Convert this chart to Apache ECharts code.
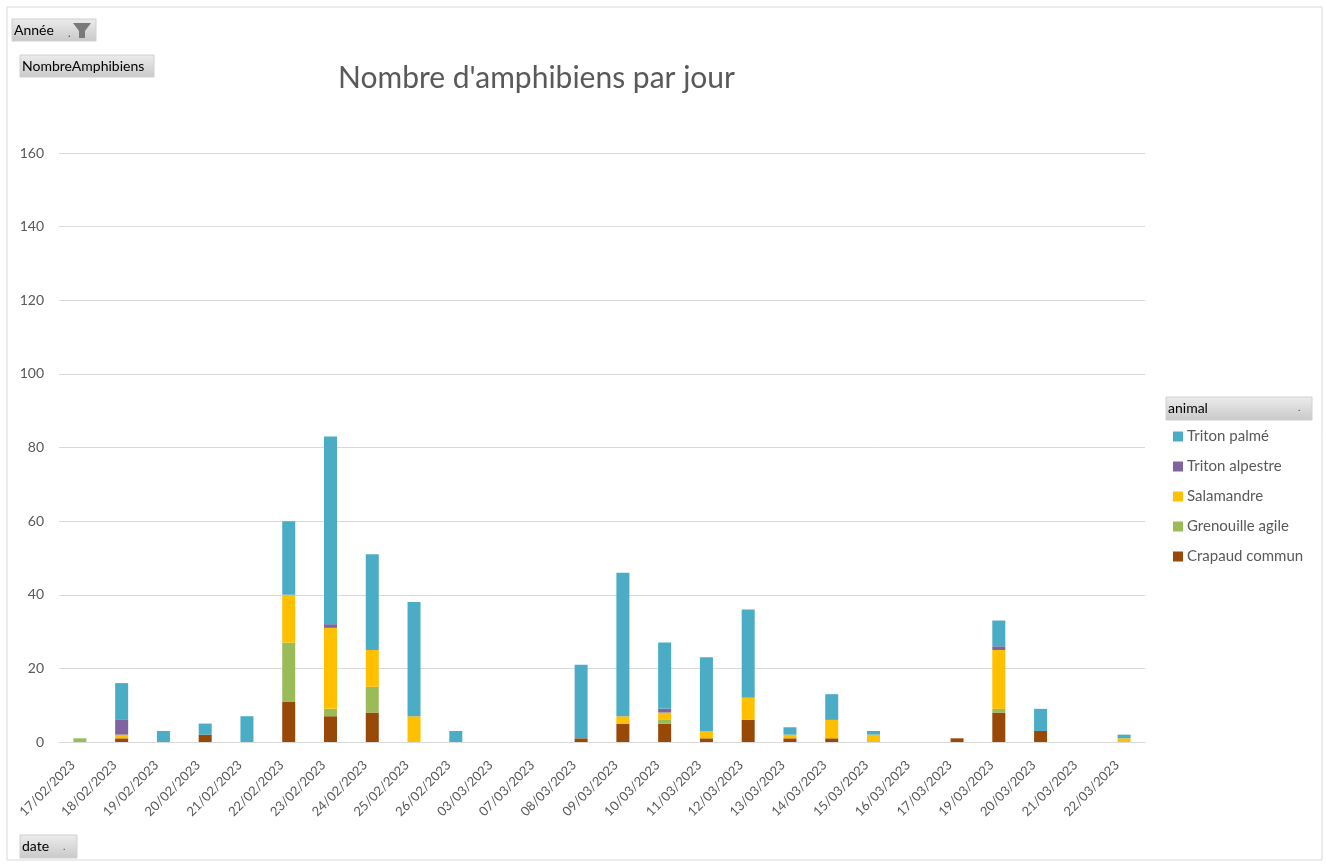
<!DOCTYPE html>
<html>
<head>
<meta charset="utf-8">
<script src="https://cdn.jsdelivr.net/npm/echarts@6/dist/echarts.min.js"></script>
<style>
  html, body { margin: 0; padding: 0; background: #fff; }
  #chart { width: 1326px; height: 868px; }
</style>
</head>
<body>
<div id="chart"></div>
<script>
var dates = ['17/02/2023', '18/02/2023', '19/02/2023', '20/02/2023', '21/02/2023', '22/02/2023',
    '23/02/2023', '24/02/2023', '25/02/2023', '26/02/2023', '03/03/2023', '07/03/2023',
    '08/03/2023', '09/03/2023', '10/03/2023', '11/03/2023', '12/03/2023', '13/03/2023',
    '14/03/2023', '15/03/2023', '16/03/2023', '17/03/2023', '19/03/2023', '20/03/2023',
    '21/03/2023', '22/03/2023'];

// valeurs par espece (ordre des dates ci-dessus)
var crapaudCommun = [0, 1, 0, 2, 0, 11, 7, 8, 0, 0, 0, 0, 1, 5, 5, 1, 6, 1, 1, 0, 0, 1, 8, 3, 0, 0];
var grenouilleAgile = [1, 0, 0, 0, 0, 16, 2, 7, 0, 0, 0, 0, 0, 0, 1, 0, 0, 0, 0, 0, 0, 0, 1, 0, 0, 0];
var salamandre = [0, 1, 0, 0, 0, 13, 22, 10, 7, 0, 0, 0, 0, 2, 2, 2, 6, 1, 5, 2, 0, 0, 16, 0, 0, 1];
var tritonAlpestre = [0, 4, 0, 0, 0, 0, 1, 0, 0, 0, 0, 0, 0, 0, 1, 0, 0, 0, 0, 0, 0, 0, 1, 0, 0, 0];
var tritonPalme = [0, 10, 3, 3, 7, 20, 51, 26, 31, 3, 0, 0, 20, 39, 18, 20, 24, 2, 7, 1, 0, 0, 7, 6, 0, 1];

var yTicks = [0, 20, 40, 60, 80, 100, 120, 140, 160];

var textColor = '#595959';
var font = 'Lato, "Liberation Sans", sans-serif';

function bar(name, data, color) {
    return {
        name: name,
        type: 'bar',
        stack: 'total',
        barWidth: 13,
        itemStyle: { color: color },
        emphasis: { disabled: true },
        data: data
    };
}

// bouton gris facon tableau croise dynamique
function pivotButton(x, y, w, h, label, extra) {
    var children = [{
        type: 'rect',
        shape: { x: x, y: y, width: w, height: h },
        style: {
            fill: new echarts.graphic.LinearGradient(0, 0, 0, 1, [
                { offset: 0, color: '#ececec' },
                { offset: 1, color: '#c9c9c9' }
            ]),
            stroke: '#d0d0d0'
        }
    }, {
        type: 'text',
        style: { x: x + 2, y: y + h / 2, text: label, fill: '#000', font: '14px ' + font, verticalAlign: 'middle' }
    }];
    return children.concat(extra || []);
}

var graphics = []
    .concat(pivotButton(12, 19, 84, 22, 'Année', [
        { type: 'text', style: { x: 68, y: 28, text: '.', fill: '#444', font: '11px ' + font } },
        { type: 'polygon', shape: { points: [[73, 23], [91, 23], [85, 31], [85, 38], [79, 38], [79, 31]] }, style: { fill: '#7a7a7a' } }
    ]))
    .concat(pivotButton(20, 55, 134, 22, 'NombreAmphibiens'))
    .concat(pivotButton(20, 835, 57, 23, 'date', [
        { type: 'text', style: { x: 63, y: 842, text: '.', fill: '#444', font: '10px ' + font } }
    ]))
    .concat(pivotButton(1166, 397, 146, 23, 'animal', [
        { type: 'text', style: { x: 1298, y: 403, text: '.', fill: '#444', font: '10px ' + font } }
    ]));

graphics.unshift({
    type: 'rect',
    shape: { x: 7, y: 7, width: 1315, height: 853 },
    style: { fill: 'none', stroke: '#d9d9d9' }
});

var chart = echarts.init(document.getElementById('chart'));
chart.setOption({
    animation: false,
    textStyle: { fontFamily: font },
    title: {
        text: "Nombre d'amphibiens par jour",
        left: 333,
        top: 58,
        textStyle: { fontSize: 30, fontWeight: 'normal', color: textColor, fontFamily: font }
    },
    legend: {
        orient: 'vertical',
        left: 1168,
        top: 424,
        itemWidth: 10,
        itemHeight: 10,
        itemGap: 15,
        icon: 'rect',
        data: ['Triton palmé', 'Triton alpestre', 'Salamandre', 'Grenouille agile', 'Crapaud commun'],
        textStyle: { fontSize: 15, color: textColor, padding: [0, 0, 0, -1] }
    },
    grid: { left: 59, right: 181, top: 153, bottom: 126 },
    xAxis: {
        type: 'category',
        data: dates,
        axisLine: { lineStyle: { color: '#d9d9d9' } },
        axisTick: { show: false },
        axisLabel: { rotate: 45, interval: 0, fontSize: 13, color: textColor, margin: 14, padding: [0, 10, 0, 0] }
    },
    yAxis: {
        type: 'value',
        min: yTicks[0],
        max: yTicks[yTicks.length - 1],
        interval: 20,
        axisLine: { show: false },
        axisTick: { show: false },
        splitLine: { lineStyle: { color: '#d9d9d9' } },
        axisLabel: { fontSize: 14, color: textColor, margin: 15 }
    },
    series: [
        bar('Crapaud commun', crapaudCommun, '#984807'),
        bar('Grenouille agile', grenouilleAgile, '#9BBB59'),
        bar('Salamandre', salamandre, '#FFC000'),
        bar('Triton alpestre', tritonAlpestre, '#8064A2'),
        bar('Triton palmé', tritonPalme, '#4BACC6')
    ],
    graphic: graphics
});
</script>
</body>
</html>
